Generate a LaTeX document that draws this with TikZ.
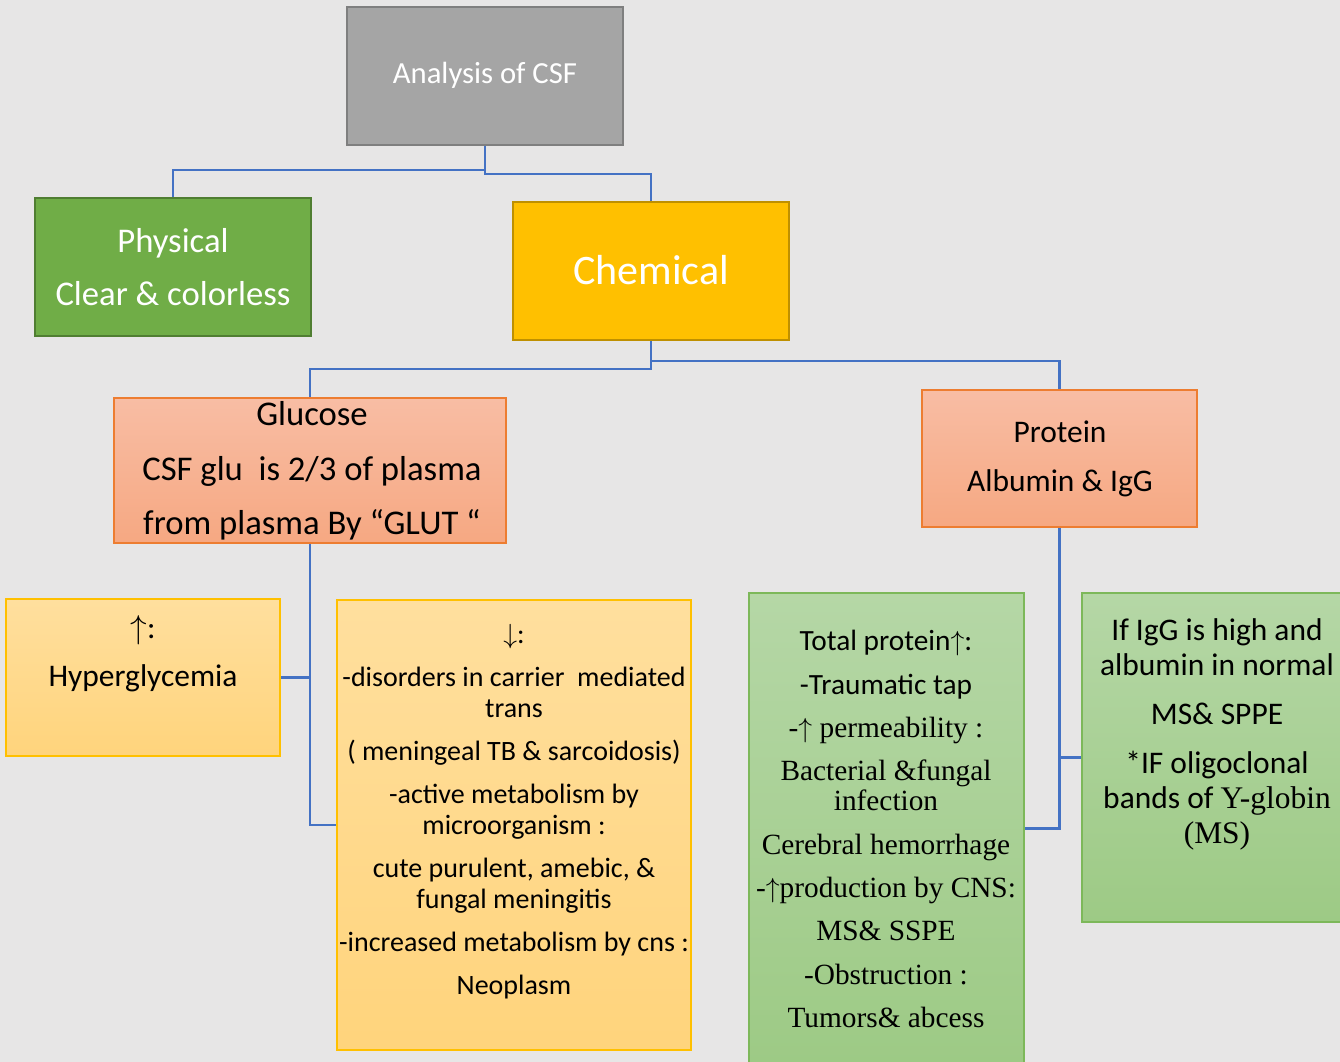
\documentclass[tikz,border=0pt]{standalone}
\usepackage{fontspec}
\setmainfont{Carlito}
\newfontfamily\tnr{Liberation Serif}
\usetikzlibrary{fit,calc}
\definecolor{bggray}{HTML}{E7E6E6}
\definecolor{lnblue}{HTML}{4472C4}
\definecolor{rootgray}{HTML}{A5A5A5}
\definecolor{rootedge}{HTML}{7F7F7F}
\definecolor{physgreen}{HTML}{70AD47}
\definecolor{physedge}{HTML}{507E32}
\definecolor{chemgold}{HTML}{FFC000}
\definecolor{chemedge}{HTML}{BF9000}
\definecolor{peachtop}{HTML}{F8BDA4}
\definecolor{peachbot}{HTML}{F6A882}
\definecolor{peachedge}{HTML}{ED7D31}
\definecolor{sandtop}{HTML}{FFDF9E}
\definecolor{sandbot}{HTML}{FFD47C}
\definecolor{sandedge}{HTML}{FFC000}
\definecolor{sagetop}{HTML}{B5D7A6}
\definecolor{sagebot}{HTML}{9DCA85}
\definecolor{sageedge}{HTML}{7DB85A}
\newcommand\upa{$\uparrow$}
\newcommand\downa{$\downarrow$}

\begin{document}
\begin{tikzpicture}[
  x=0.75pt, y=-0.75pt,
  box/.style={draw, line width=1.5pt, inner sep=0pt},
  peach/.style={box, draw=peachedge, top color=peachtop, bottom color=peachbot},
  sand/.style={box, draw=sandedge, top color=sandtop, bottom color=sandbot},
  sage/.style={box, draw=sageedge, top color=sagetop, bottom color=sagebot},
  txt/.style={align=center, inner sep=0pt},
  wtxt/.style={txt, text=white},
  conn/.style={draw=lnblue, line width=1.9pt},
]
% ---- page ----
\fill[bggray] (0,0) rectangle (1340,1062);
\clip (0,0) rectangle (1340,1062);

% ---- top levels ----
\node[box, fill=rootgray, draw=rootedge, fit={(347,7) (623,145)}] (root) {};
\node[box, fill=physgreen, draw=physedge, fit={(35,198) (311,336)}] (phys) {};
\node[box, fill=chemgold, draw=chemedge, fit={(513,202) (789,340)}] (chem) {};
\node[wtxt, font=\fontsize{23}{28}\selectfont] (roottxt) at (485,75) {Analysis of CSF};
\node[wtxt, font=\fontsize{26}{39.75}\selectfont] (phystxt) at (173,267) {Physical\\Clear \& colorless};
\node[wtxt, font=\fontsize{31.5}{36}\selectfont] (chemtxt) at (651,270) {Chemical};

% ---- chemical branches ----
\node[peach, fit={(114,398) (506,543)}] (gluc) {};
\node[peach, fit={(922,390) (1197,527)}] (prot) {};
\node[txt, font=\fontsize{26}{41}\selectfont] (gluctxt) at (312,471)
      {Glucose\\CSF glu\ \ is 2/3 of plasma\\from plasma By “GLUT “};
\node[txt, font=\fontsize{23.6}{36.75}\selectfont] (prottxt) at (1060,459)
      {Protein\\Albumin \& IgG};

% ---- glucose findings ----
\node[sand, fit={(6,599) (280,756)}] (hyp) {};
\node[sand, fit={(337,600) (691,1050)}] (dec) {};
\node[txt, font=\fontsize{23.6}{36}\selectfont] (hyptxt) at (143,654)
      {\upa:\\Hyperglycemia};
\node[txt, font=\fontsize{21}{23.25}\selectfont] (dectxt) at (514,812)
      {\downa:\\[9pt]-disorders in carrier\ \ mediated\\trans\\[9pt]( meningeal TB \& sarcoidosis)\\[9pt]-active metabolism by\\microorganism :\\[9pt]cute purulent, amebic, \&\\fungal meningitis\\[9pt]-increased metabolism by cns :\\[9pt]Neoplasm};

% ---- protein findings ----
\node[sage, fit={(749,593) (1024,1064)}] (tot) {};
\node[sage, fit={(1082,593) (1343,922)}] (igg) {};
\node[txt, font=\fontsize{22}{22.5}\selectfont] (tottxt) at (886,829)
      {Total protein\upa:\\[10pt]-Traumatic tap\\[10pt]{\tnr -\upa{} permeability :}\\[10pt]{\tnr Bacterial \&fungal}\\{\tnr infection}\\[10pt]{\tnr Cerebral hemorrhage}\\[10pt]{\tnr -\upa{}production by CNS:}\\[10pt]{\tnr MS\& SSPE}\\[10pt]{\tnr -Obstruction :}\\[10pt]{\tnr Tumors\& abcess}};
\node[txt, font=\fontsize{23.6}{26.25}\selectfont] (iggtxt) at (1217,734)
      {If IgG is high and\\albumin in normal\\[10.5pt]MS\& SPPE\\[10.5pt]*IF oligoclonal\\bands of {\tnr Y-globin}\\{\tnr (MS)}};

% ---- connectors ----
\draw[conn] (root.south) -- ++(0,24) -| (phys.north);
\draw[conn] (root.south) -- ++(0,28) -| (chem.north);
\draw[conn] (chem.south) -- ++(0,28) -| (gluc.north);
\draw[conn] (chem.south) -- ++(0,20) -| (prot.north);
\draw[conn] (gluc.south) |- (dec.west);
\draw[conn] (hyp.east) -- (hyp.east -| gluc.south);
\draw[conn] (prot.south) |- (tot.east);
\draw[conn] (igg.west) -- (igg.west -| prot.south);
\end{tikzpicture}
\end{document}
